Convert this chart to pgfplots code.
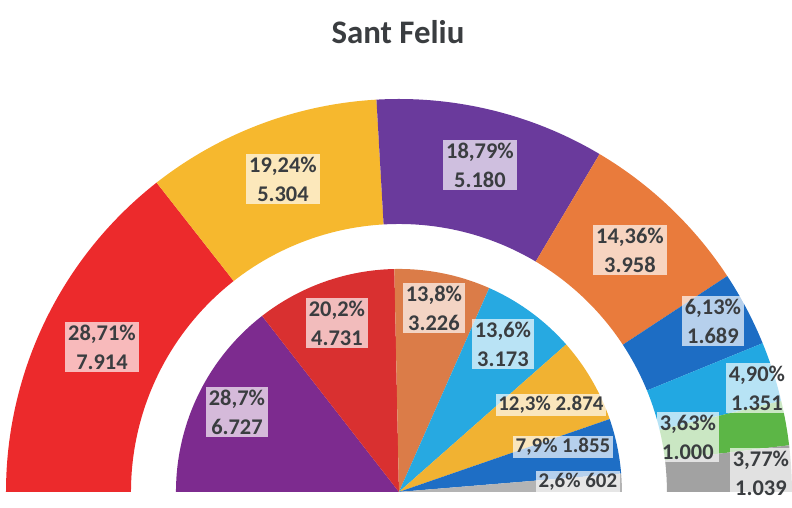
\documentclass[border=0pt]{standalone}
\usepackage{pgfplots}
\pgfplotsset{compat=1.18}
\usepackage{pgfplotstable}
\usepackage{fontspec}
\setmainfont{Carlito}
\definecolor{oRed}{HTML}{EC2A2C}
\definecolor{oYel}{HTML}{F6B82E}
\definecolor{oPur}{HTML}{6A3A9C}
\definecolor{oOra}{HTML}{E97B3C}
\definecolor{oDBl}{HTML}{1D6DC4}
\definecolor{oLBl}{HTML}{22A8E2}
\definecolor{oGre}{HTML}{5CB646}
\definecolor{oGry}{HTML}{A2A2A2}
\definecolor{iPur}{HTML}{7D2B8F}
\definecolor{iRed}{HTML}{D93030}
\definecolor{iOra}{HTML}{DB7C48}
\definecolor{iLBl}{HTML}{27A9E1}
\definecolor{iYel}{HTML}{F1B232}
\definecolor{iDBl}{HTML}{1E6EC5}
\definecolor{iGry}{HTML}{B4B4B4}
\definecolor{txt}{HTML}{3A3D40}

% pct votes label-x label-y(from top) lines colour
\pgfplotstableread{
pct votes lx ly lines col
28.71 7914 102 347 2 oRed
19.24 5304 283 179 2 oYel
18.79 5180 480 165 2 oPur
14.36 3958 630 250 2 oOra
6.13 1689 713 321 2 oDBl
4.90 1351 757 388 2 oLBl
3.63 1000 688 437 2 oGre
3.77 1039 761 473 2 oGry
}\outerdata

\pgfplotstableread{
pct votes lx ly lines col
28.7 6727 237 412 2 iPur
20.2 4731 337 323 2 iRed
13.8 3226 434 308 2 iOra
13.6 3173 503 344 2 iLBl
12.3 2874 551 405 1 iYel
7.9 1855 563 447 1 iDBl
2.6 602 578 482 1 iGry
}\innerdata

\tikzset{lab/.style={fill=white, fill opacity=0.68, text opacity=1, inner sep=3bp,
  align=center, text=txt, font=\fontsize{22.5}{29}\selectfont\bfseries},
  lab1/.style={lab, inner sep=2.5bp, font=\fontsize{21}{25}\selectfont\bfseries}}

\newcommand\drawslices[4]{%
  \pgfplotstablegetrowsof{#1}\pgfmathtruncatemacro\slnr{\pgfplotsretval-1}%
  \gdef\sltot{0}%
  \foreach \k in {0,...,\slnr}{%
    \pgfplotstablegetelem{\k}{pct}\of{#1}%
    \pgfmathsetmacro\sltmp{\sltot+\pgfplotsretval}\xdef\sltot{\sltmp}}%
  \gdef\slcum{0}%
  \foreach \k in {0,...,\slnr}{%
    \pgfplotstablegetelem{\k}{pct}\of{#1}\let\slpct\pgfplotsretval
    \pgfplotstablegetelem{\k}{col}\of{#1}\let\slcol\pgfplotsretval
    \pgfmathsetmacro\slaa{180-\slcum/\sltot*180}%
    \pgfmathsetmacro\slab{180-(\slcum+\slpct)/\sltot*180}%
    \pgfmathsetmacro\slnc{\slcum+\slpct}\xdef\slcum{\slnc}%
    \fill[fill=\slcol, shift={(axis cs:399,16)}] (\slaa:#3bp)
      arc[start angle=\slaa, end angle=\slab, radius=#3bp] -- (\slab:#2bp)
      arc[start angle=\slab, end angle=\slaa, radius=#2bp] -- cycle;
  }%
  \foreach \k in {0,...,\slnr}{%
    \pgfplotstablegetelem{\k}{pct}\of{#1}\let\slpct\pgfplotsretval
    \pgfplotstablegetelem{\k}{votes}\of{#1}\let\slvot\pgfplotsretval
    \pgfplotstablegetelem{\k}{lx}\of{#1}\let\sllx\pgfplotsretval
    \pgfplotstablegetelem{\k}{ly}\of{#1}\pgfmathsetmacro\slly{508-\pgfplotsretval}%
    \pgfplotstablegetelem{\k}{lines}\of{#1}\let\sllines\pgfplotsretval
    \ifnum\sllines=2
      \node[lab] at (axis cs:\sllx,\slly) {\pgfmathprintnumber[fixed,fixed zerofill,precision=#4,use comma,assume math mode=true]{\slpct}\%\\\pgfmathprintnumber[fixed,precision=0,use comma,assume math mode=true]{\slvot}};
    \else
      \node[lab1] at (axis cs:\sllx,\slly) {\pgfmathprintnumber[fixed,fixed zerofill,precision=#4,use comma,assume math mode=true]{\slpct}\% \pgfmathprintnumber[fixed,precision=0,use comma,assume math mode=true]{\slvot}};
    \fi
  }%
}

\begin{document}
\begin{tikzpicture}
\begin{axis}[x=1bp, y=1bp, xmin=0, xmax=792, ymin=0, ymax=508, hide axis, clip=false]
\path (axis cs:0,0) rectangle (axis cs:792,508);
\pgfplotsextra{%
  \drawslices{\outerdata}{268}{393}{2}%
  \drawslices{\innerdata}{0.01}{223}{1}%
}
\node[font=\fontsize{33}{36}\selectfont\bfseries, text=txt] at (axis cs:398,476) {Sant Feliu};
\end{axis}
\end{tikzpicture}
\end{document}
